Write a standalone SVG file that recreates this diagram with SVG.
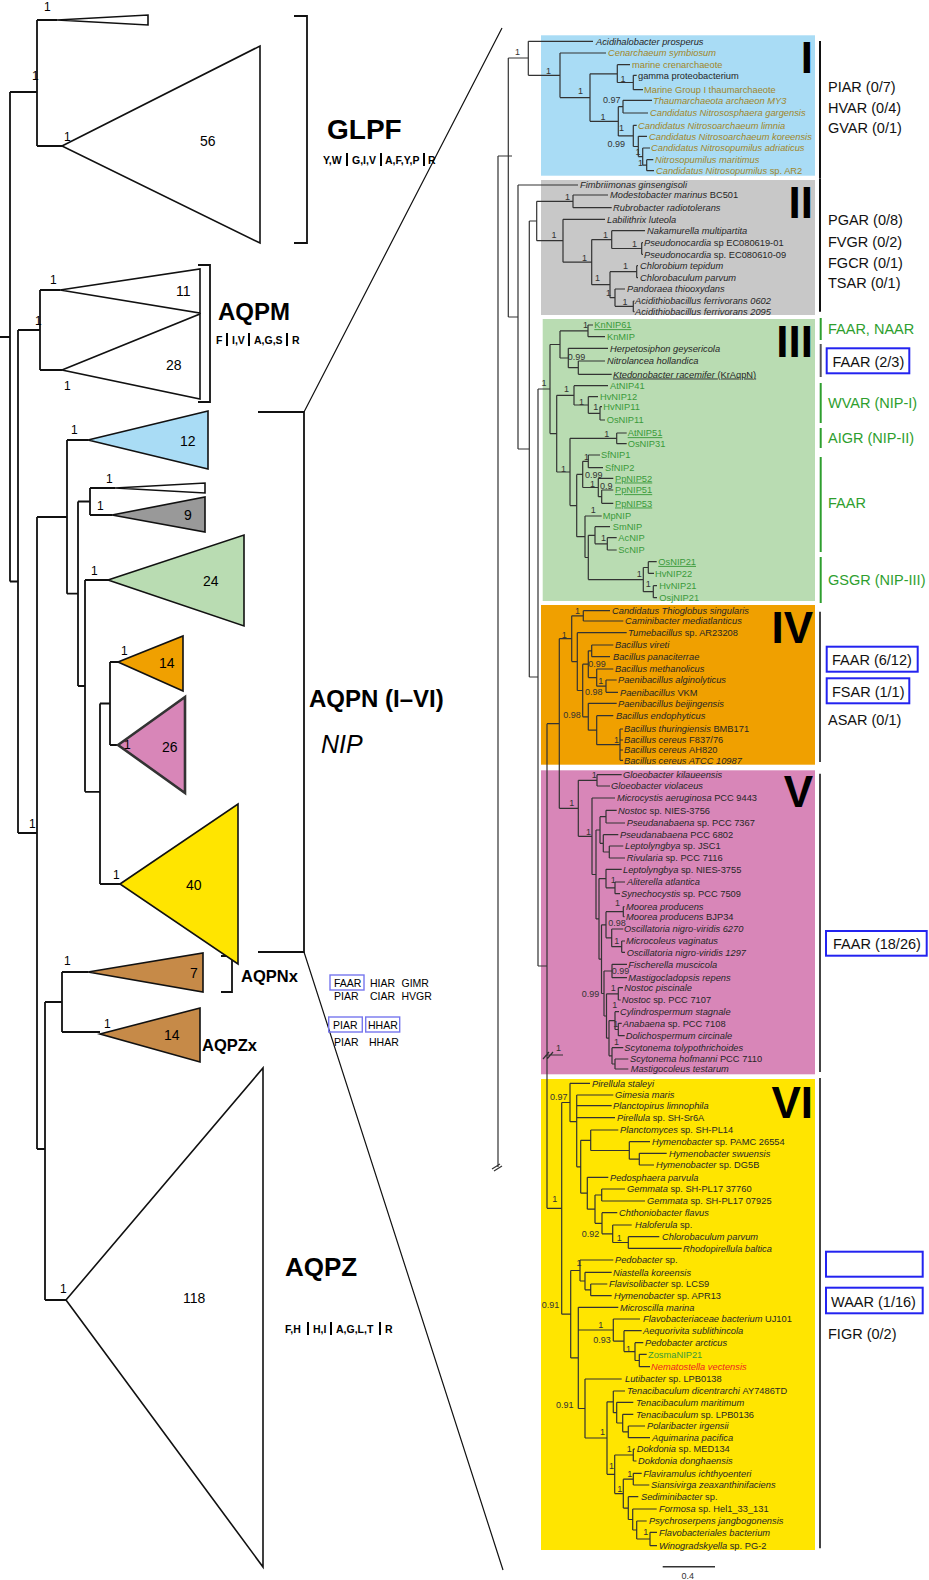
<svg xmlns="http://www.w3.org/2000/svg" width="929" height="1580" viewBox="0 0 929 1580">
<style>
.lf{font-family:"Liberation Sans",Arial,sans-serif;font-size:9.3px;font-style:italic;fill:#262626}
.n{font-style:normal}
.gd{fill:#a0862a}
.gn{fill:#3a9a3a;font-style:normal}
.sv{font-family:"Liberation Sans",Arial,sans-serif;font-size:9px;fill:#333}
.rl{font-family:"Liberation Sans",Arial,sans-serif;font-size:14.5px;fill:#111}
.rg{font-family:"Liberation Sans",Arial,sans-serif;font-size:14.5px;fill:#2e9e2e}
.rn{font-family:"Liberation Sans",Arial,sans-serif;font-size:44px;font-weight:bold;fill:#000;text-anchor:end}
.tr{stroke:#333;stroke-width:1.2;fill:none}
.lt{stroke:#111;stroke-width:1.8;fill:none}
.tri{stroke:#111;stroke-width:1.6}
.bx{fill:none;stroke:#2323f0;stroke-width:2}
.sb{fill:none;stroke:#7777ee;stroke-width:1.4}
.big{font-family:"Liberation Sans",Arial,sans-serif;font-weight:bold;fill:#000}
.num{font-family:"Liberation Sans",Arial,sans-serif;font-size:14px;fill:#000}
.one{font-family:"Liberation Sans",Arial,sans-serif;font-size:12px;fill:#000}
.sm{font-family:"Liberation Sans",Arial,sans-serif;font-size:10.5px;fill:#000}
.smb{font-family:"Liberation Sans",Arial,sans-serif;font-size:10.5px;font-weight:bold;fill:#000}
.u{text-decoration:underline}
</style>

<!-- LEFT PANEL -->
<g id="left-connectors" class="lt">
<path d="M0 337 H10 M10 92 V581.5 M10 92 H37 M37 20 V146 M37 20 H57 M37 146 H62 M10 581.5 H18 M18 330 V833 M18 330 H40 M18 833 H37 M40 290 V370 M40 290 H60 M40 370 H62 M37 517 V1149 M37 517 H67 M37 1149 H45 M67 440 V593.7 M67 440 H88 M67 593.7 H78 M78 501.5 V686 M78 501.5 H90 M78 686 H85 M90 488 V515 M90 488 H115 M90 515 H112 M85 580 V791.8 M85 580 H108 M85 791.8 H100 M100 703.5 V884 M100 703.5 H110 M100 884 H120 M110 662 V745 M110 662 H118 M110 745 H118 M45 1002 V1300 M45 1002 H62 M45 1300 H66 M62 972 V1032 M62 972 H88 M62 1032 H100"/>
<path d="M294 16 H307 V243 H294 M198 265 H210 V402 H198 M258 412 H304 V952 H258 M221 956 H232 V992 H221"/>
<path d="M502 28 L304 412 M304 952 L503 1570" style="stroke-width:1.2"/>
</g>

<g id="tri-glpf-small"><path class="tri" d="M57 20 L148 15 V25 Z" fill="#fff"/><text class="one" x="44" y="11">1</text></g>
<g id="tri-glpf"><path class="tri" d="M62 146 L260 46 V243 Z" fill="#fff"/><text class="num" x="200" y="146">56</text><text class="one" x="64" y="141">1</text><text class="one" x="32" y="80">1</text></g>
<g id="label-glpf"><text class="big" x="327" y="139" font-size="28">GLPF</text>
<text class="smb" x="323" y="164">Y,W</text><text class="smb" x="352" y="164">G,I,V</text><text class="smb" x="385" y="164">A,F,Y,P</text><text class="smb" x="428" y="164">R</text>
<path d="M347 153 V166 M381 153 V166 M424 153 V166" stroke="#000" stroke-width="2"/></g>

<g id="tri-aqpm-11"><path class="tri" d="M60 290 L200 269 V313 Z" fill="#fff"/><text class="num" x="176" y="296">11</text><text class="one" x="50" y="284">1</text></g>
<g id="tri-aqpm-28"><path class="tri" d="M62 370 L200 314 V399 Z" fill="#fff"/><text class="num" x="166" y="370">28</text><text class="one" x="64" y="390">1</text><text class="one" x="35" y="325">1</text></g>
<g id="label-aqpm"><text class="big" x="218" y="320" font-size="24">AQPM</text>
<text class="smb" x="216" y="344">F</text><text class="smb" x="232" y="344">I,V</text><text class="smb" x="254" y="344">A,G,S</text><text class="smb" x="292" y="344">R</text>
<path d="M227 333 V346 M249 333 V346 M287 333 V346" stroke="#000" stroke-width="2"/></g>

<g id="tri-n12"><path class="tri" d="M88 440 L208 411 V469 Z" fill="#a9dcf5"/><text class="num" x="180" y="446">12</text><text class="one" x="71" y="434">1</text></g>
<g id="tri-nsliver"><path class="tri" d="M115 488 L205 483 V493 Z" fill="#fff"/><text class="one" x="106" y="483">1</text></g>
<g id="tri-n9"><path class="tri" d="M112 515 L205 497 V532 Z" fill="#999"/><text class="num" x="184" y="520">9</text><text class="one" x="97" y="510">1</text></g>
<g id="tri-n24"><path class="tri" d="M108 580 L244 535 V626 Z" fill="#b9dcb2"/><text class="num" x="203" y="586">24</text><text class="one" x="91" y="575">1</text></g>
<g id="tri-n14"><path class="tri" d="M118 662 L183 636 V691 Z" fill="#f0a000"/><text class="num" x="159" y="668">14</text><text class="one" x="121" y="655">1</text></g>
<g id="tri-n26"><path d="M118 745 L185 697 V793 Z" fill="#d886b8" stroke="#333" stroke-width="2.6"/><text class="num" x="162" y="752">26</text><text class="one" x="124" y="749">1</text></g>
<g id="tri-n40"><path class="tri" d="M120 884 L238 804 V964 Z" fill="#ffe500"/><text class="num" x="186" y="890">40</text><text class="one" x="113" y="879">1</text></g>
<g id="label-aqpn"><text class="big" x="309" y="707" font-size="24">AQPN (I–VI)</text><text x="321" y="753" font-family="Liberation Sans,Arial,sans-serif" font-size="25" font-style="italic">NIP</text><text class="one" x="29" y="828">1</text></g>

<g id="tri-aqpnx"><path class="tri" d="M88 972 L203 953 V992 Z" fill="#c68a48"/><text class="num" x="190" y="978">7</text><text class="one" x="64" y="965">1</text></g>
<g id="tri-aqpzx"><path class="tri" d="M100 1034 L200 1008 V1062 Z" fill="#c68a48"/><text class="num" x="164" y="1040">14</text><text class="one" x="104" y="1028">1</text></g>
<g id="label-aqpnx"><text class="big" x="241" y="982" font-size="16.5">AQPNx</text><text class="big" x="202" y="1051" font-size="16.5">AQPZx</text></g>
<g id="motifs-x">
<rect class="sb" x="330" y="975" width="34" height="15"/><text class="sm" x="334" y="986.5" fill="#666">FAAR</text>
<text class="sm" x="370" y="987">HIAR</text><text class="sm" x="401.5" y="987">GIMR</text>
<text class="sm" x="334" y="1000">PIAR</text><text class="sm" x="370" y="1000">CIAR</text><text class="sm" x="401.5" y="1000">HVGR</text>
<rect class="sb" x="328.7" y="1017" width="33.6" height="15"/><text class="sm" x="333" y="1028.5" fill="#666">PIAR</text>
<rect class="sb" x="365.7" y="1017" width="34" height="15"/><text class="sm" x="368" y="1028.5" fill="#666">HHAR</text>
<text class="sm" x="334" y="1045.5">PIAR</text><text class="sm" x="369" y="1045.5">HHAR</text>
</g>
<g id="tri-aqpz"><path class="tri" d="M66 1300 L263 1068 V1567 Z" fill="#fff"/><text class="num" x="183" y="1303">118</text><text class="one" x="60" y="1293">1</text></g>
<g id="label-aqpz"><text class="big" x="285" y="1276" font-size="26">AQPZ</text>
<text class="smb" x="285" y="1333">F,H</text><text class="smb" x="313" y="1333">H,I</text><text class="smb" x="336" y="1333">A,G,L,T</text><text class="smb" x="385" y="1333">R</text>
<path d="M308 1322 V1335 M331 1322 V1335 M380 1322 V1335" stroke="#000" stroke-width="2"/></g>

<!-- RIGHT PANEL -->
<g id="clade-boxes">
<rect x="541" y="35.3" width="274" height="140.4" fill="#a9dcf5"/>
<rect x="541" y="180" width="274" height="135" fill="#c8c8c8"/>
<rect x="542.7" y="319" width="272.3" height="282" fill="#b9dcb2"/>
<rect x="541" y="605" width="274" height="159.7" fill="#f0a000"/>
<rect x="541" y="770.3" width="274" height="304" fill="#d886b8"/>
<rect x="541" y="1079" width="274" height="471" fill="#ffe500"/>
</g>

<g id="right-connectors" class="tr">
<path d="M498 156 H512 M498 156 V1167 M492 1169 L500 1164 M494 1171 L502 1166 M508.3 58 V317 M508.3 58 H528.3 M508.3 317 H518 M518 185 V449 M518 185 H578 M518 449 H529.3 M529.3 221 V677 M529.3 221 H536.7 M529.3 677 H538 M538 389 V966 M538 389 H550 M538 966 H547 M547 723.7 V1208.3 M547 723.7 H559.3 M547 1208.3 H561.7 M559.3 638.7 V808.3 M559.3 638.7 H571.7 M559.3 808.3 H578.3 M547 1055 H563 M543 1059 L549 1052 M547 1059 L553 1052"/>
<path d="M528.3 41.3 V75.3 M528.3 41.3 H593 M528.3 75.3 H560 M560 53 V97.6 M560 53 H606 M560 97.6 H590 M590 73.8 V121.3 M590 73.8 H617.3 M590 121.3 H618.3 M617.3 64.7 V82.5 M617.3 64.7 H630 M617.3 82.5 H633.3 M633.3 75.3 V89.7 M633.3 75.3 H636.7 M633.3 89.7 H643 M618.3 106.7 V135.9 M618.3 106.7 H623 M618.3 135.9 H633.3 M623 100.3 V113 M623 100.3 H652 M623 113 H648 M633.3 125.3 V146.5 M633.3 125.3 H636.7 M633.3 146.5 H638.3 M638.3 136.3 V156.6 M638.3 136.3 H647 M638.3 156.6 H642.7 M642.7 148 V165.2 M642.7 148 H650 M642.7 165.2 H646.7 M646.7 159.7 V170.7 M646.7 159.7 H653.3 M646.7 170.7 H654"/>
<path d="M536.7 201.3 V240.7 M536.7 201.3 H573 M536.7 240.7 H563 M573 195 V207.7 M573 195 H608 M573 207.7 H611.7 M563 219.3 V262.2 M563 219.3 H605 M563 262.2 H591.7 M591.7 239.6 V284.7 M591.7 239.6 H611.7 M591.7 284.7 H610 M611.7 230.7 V248.5 M611.7 230.7 H645 M611.7 248.5 H641.7 M641.7 242.7 V254.3 M641.7 242.7 H643 M641.7 254.3 H643 M610 271.7 V297.7 M610 271.7 H636.7 M610 297.7 H615 M636.7 265.7 V277.7 M636.7 265.7 H638 M636.7 277.7 H638 M615 289 V306.3 M615 289 H625 M615 306.3 H633.3 M633.3 301 V311.7 M633.3 301 H634.5 M633.3 311.7 H634.5"/>
<path d="M550 344.5 V433.6 M550 344.5 H560 M550 433.6 H556.7 M560 330.9 V358 M560 330.9 H588 M560 358 H568.3 M588 325 V336.7 M588 325 H593 M588 336.7 H605 M568.3 348.3 V367.7 M568.3 348.3 H608 M568.3 367.7 H578.3 M578.3 361 V374.3 M578.3 361 H605 M578.3 374.3 H611.7 M556.7 395.3 V472 M556.7 395.3 H574 M556.7 472 H570 M574 385.7 V405 M574 385.7 H608 M574 405 H588.3 M588.3 396.7 V413.3 M588.3 396.7 H598 M588.3 413.3 H600 M600 406.7 V420 M600 406.7 H602 M600 420 H605 M570 438.3 V505.6 M570 438.3 H616.7 M570 505.6 H576.7 M616.7 433 V443.7 M616.7 433 H626.7 M616.7 443.7 H626.7 M576.7 474.4 V536.7 M576.7 474.4 H582.7 M576.7 536.7 H585 M582.7 461.3 V487.5 M582.7 461.3 H588.3 M582.7 487.5 H598.3 M588.3 455 V467.7 M588.3 455 H600 M588.3 467.7 H603 M598.3 478.3 V496.7 M598.3 478.3 H613.3 M598.3 496.7 H601.7 M601.7 490 V503.3 M601.7 490 H613.3 M601.7 503.3 H613.3 M585 516 V557.5 M585 516 H601.7 M585 557.5 H588.3 M588.3 535.3 V579.6 M588.3 535.3 H595 M588.3 579.6 H643.3 M595 526.7 V543.8 M595 526.7 H610 M595 543.8 H607.3 M607.3 537.7 V550 M607.3 537.7 H616.7 M607.3 550 H616.7 M643.3 567.5 V591.7 M643.3 567.5 H648.3 M643.3 591.7 H653.3 M648.3 561.7 V573.3 M648.3 561.7 H656.7 M648.3 573.3 H654 M653.3 585.7 V597.7 M653.3 585.7 H657 M653.3 597.7 H657"/>
<path d="M571.7 615.8 V661.6 M571.7 615.8 H583.3 M571.7 661.6 H577.3 M583.3 610.7 V621 M583.3 610.7 H610 M583.3 621 H623.3 M577.3 632.7 V690.5 M577.3 632.7 H626.7 M577.3 690.5 H582.7 M582.7 664.2 V716.8 M582.7 664.2 H588.3 M582.7 716.8 H588.3 M588.3 650.8 V677.6 M588.3 650.8 H591.7 M588.3 677.6 H596.7 M591.7 645 V656.7 M591.7 645 H613.3 M591.7 656.7 H610 M596.7 669 V686.2 M596.7 669 H613.3 M596.7 686.2 H606 M606 680 V692.3 M606 680 H616.7 M606 692.3 H618 M588.3 703.3 V730.2 M588.3 703.3 H616.7 M588.3 730.2 H596.7 M596.7 715.7 V744.7 M596.7 715.7 H613.3 M596.7 744.7 H620 M620 729 V760.3 M620 729 H623 M620 740 H623 M620 750 H623 M620 760.3 H623"/>
<path d="M578.3 780.3 V836.3 M578.3 780.3 H597 M578.3 836.3 H592 M597 774.7 V786 M597 774.7 H621.7 M597 786 H610 M592 798 V874.5 M592 798 H615 M592 874.5 H596 M596 830 V918.9 M596 830 H600 M596 918.9 H599 M600 816.7 V843.3 M600 816.7 H606 M600 843.3 H603.3 M606 810.3 V823 M606 810.3 H616.7 M606 823 H625 M603.3 834.7 V852 M603.3 834.7 H618.3 M603.3 852 H609.3 M609.3 846 V858 M609.3 846 H623.3 M609.3 858 H625 M599 878.6 V959.2 M599 878.6 H606 M599 959.2 H601.5 M606 869.3 V887.8 M606 869.3 H621.7 M606 887.8 H615 M615 882 V893.7 M615 882 H625 M615 893.7 H620 M601.5 924.8 V993.5 M601.5 924.8 H606 M601.5 993.5 H604 M606 911.7 V937.8 M606 911.7 H623.3 M606 937.8 H611.7 M623.3 906.7 V916.7 M623.3 906.7 H624.5 M623.3 916.7 H624.5 M611.7 929 V946.7 M611.7 929 H623.3 M611.7 946.7 H621.7 M621.7 941 V952.3 M621.7 941 H625 M621.7 952.3 H625 M604 971 V1016 M604 971 H612 M604 1016 H606.5 M612 964.3 V977.7 M612 964.3 H627 M612 977.7 H627 M606.5 993.8 V1038.2 M606.5 993.8 H618.3 M606.5 1038.2 H609 M618.3 987.7 V1000 M618.3 987.7 H623 M618.3 1000 H620.7 M609 1020.6 V1055.8 M609 1020.6 H615 M609 1055.8 H612 M615 1011.7 V1029.5 M615 1011.7 H619 M615 1029.5 H618.3 M618.3 1023.3 V1035.7 M618.3 1023.3 H621.7 M618.3 1035.7 H624.7 M612 1047.7 V1064 M612 1047.7 H623.3 M612 1064 H615 M615 1059 V1069 M615 1059 H628.3 M615 1069 H628.3"/>
<path d="M561.7 1102.5 V1314.2 M561.7 1102.5 H570 M561.7 1314.2 H570.7 M570 1083.3 V1121.7 M570 1083.3 H590 M570 1121.7 H576.7 M576.7 1095 V1166.8 M576.7 1095 H613.3 M576.7 1105.7 H611.7 M576.7 1117.7 H615 M576.7 1166.8 H580.7 M580.7 1140.3 V1193.2 M580.7 1140.3 H590.7 M580.7 1193.2 H587.3 M590.7 1130 V1150.5 M590.7 1130 H618.3 M590.7 1150.5 H629.3 M629.3 1141.7 V1159.2 M629.3 1141.7 H650 M629.3 1159.2 H639.3 M639.3 1153.3 V1165 M639.3 1153.3 H666.7 M639.3 1165 H654 M587.3 1177.3 V1209.2 M587.3 1177.3 H608.3 M587.3 1209.2 H595 M595 1195 V1223.3 M595 1195 H601.7 M595 1223.3 H602 M601.7 1189 V1201 M601.7 1189 H625 M601.7 1201 H645 M602 1212.7 V1233.8 M602 1212.7 H617.3 M602 1233.8 H612.7 M612.7 1225 V1242.5 M612.7 1225 H631.7 M612.7 1242.5 H628.3 M628.3 1236.7 V1248.3 M628.3 1236.7 H659.3 M628.3 1248.3 H681.7 M570.7 1270.5 V1357.9 M570.7 1270.5 H580 M570.7 1357.9 H578.3 M580 1260 V1281 M580 1260 H613.3 M580 1281 H585 M585 1272.3 V1289.8 M585 1272.3 H611.7 M585 1289.8 H590.7 M590.7 1284 V1295.7 M590.7 1284 H607.3 M590.7 1295.7 H611.7 M578.3 1307.3 V1408.5 M578.3 1307.3 H618.3 M578.3 1330 H613.3 M578.3 1408.5 H585 M613.3 1319 V1341.1 M613.3 1319 H640 M613.3 1341.1 H624 M624 1330.7 V1351.6 M624 1330.7 H641.7 M624 1351.6 H635 M635 1342.7 V1360.5 M635 1342.7 H643.3 M635 1360.5 H639.3 M639.3 1354.3 V1366.7 M639.3 1354.3 H646.7 M639.3 1366.7 H650 M585 1379 V1438 M585 1379 H621.7 M585 1438 H607 M607 1401.8 V1474.3 M607 1401.8 H613.3 M607 1474.3 H614.7 M613.3 1391 V1412.7 M613.3 1391 H625 M613.3 1412.7 H616.7 M616.7 1402.3 V1423 M616.7 1402.3 H633.3 M616.7 1423 H622.7 M622.7 1414.3 V1431.8 M622.7 1414.3 H633.3 M622.7 1431.8 H628.3 M628.3 1426 V1437.7 M628.3 1426 H645 M628.3 1437.7 H650 M614.7 1455 V1493.6 M614.7 1455 H633.3 M614.7 1493.6 H623.3 M633.3 1449 V1461 M633.3 1449 H635 M633.3 1461 H636.5 M623.3 1479.2 V1508.1 M623.3 1479.2 H633.3 M623.3 1508.1 H628.3 M633.3 1473.3 V1485 M633.3 1473.3 H641.7 M633.3 1485 H649.3 M628.3 1496.7 V1519.5 M628.3 1496.7 H638.3 M628.3 1519.5 H632.7 M632.7 1509 V1530 M632.7 1509 H656.7 M632.7 1530 H636.7 M636.7 1521 V1539 M636.7 1521 H646.7 M636.7 1539 H650 M650 1532.3 V1545.7 M650 1532.3 H657 M650 1545.7 H657"/>
<path d="M662.7 1566.7 H715" stroke-width="1.4"/>
</g>

<g id="clade-I">
<text class="rn" x="813" y="73">I</text>
<path d="M820 41 V178" stroke="#111" stroke-width="2"/>
<text class="rl" x="828" y="92">PIAR (0/7)</text><text class="rl" x="828" y="113">HVAR (0/4)</text><text class="rl" x="828" y="133">GVAR (0/1)</text>
<text class="lf" x="596" y="44.5">Acidihalobacter prosperus</text>
<text class="lf gd" x="608" y="56.2">Cenarchaeum symbiosum</text>
<text class="lf gd n" x="632" y="67.9">marine crenarchaeote</text>
<text class="lf n" x="638" y="78.5" fill="#111">gamma proteobacterium</text>
<text class="lf gd n" x="644" y="92.9">Marine Group I thaumarchaeote</text>
<text class="lf gd" x="653" y="103.5">Thaumarchaeota archaeon MY3</text>
<text class="lf gd" x="650" y="116.2">Candidatus Nitrososphaera gargensis</text>
<text class="lf gd" x="638" y="128.5">Candidatus Nitrosoarchaeum limnia</text>
<text class="lf gd" x="649" y="139.5">Candidatus Nitrosoarchaeum koreensis</text>
<text class="lf gd" x="651" y="151.2">Candidatus Nitrosopumilus adriaticus</text>
<text class="lf gd" x="655" y="162.9">Nitrosopumilus maritimus</text>
<text class="lf gd" x="656" y="173.9">Candidatus Nitrosopumilus <tspan class="n">sp. AR2</tspan></text>
<text class="sv" x="515" y="55">1</text><text class="sv" x="546" y="74">1</text><text class="sv" x="578" y="94">1</text><text class="sv" x="620.5" y="82">1</text><text class="sv" x="600.5" y="119.5">1</text><text class="sv" x="603" y="103">0.97</text><text class="sv" x="619" y="131">1</text><text class="sv" x="607.5" y="147.3">0.99</text><text class="sv" x="635.5" y="155">1</text><text class="sv" x="638" y="166">1</text>
</g>

<g id="clade-II">
<text class="rn" x="813" y="218">II</text>
<path d="M820 178.3 V311.7" stroke="#111" stroke-width="2"/>
<text class="rl" x="828" y="225">PGAR (0/8)</text><text class="rl" x="828" y="246.7">FVGR (0/2)</text><text class="rl" x="828" y="268.3">FGCR (0/1)</text><text class="rl" x="828" y="288.3">TSAR (0/1)</text>
<text class="lf" x="580" y="188.2">Fimbriimonas ginsengisoli</text>
<text class="lf" x="610" y="198.2">Modestobacter marinus <tspan class="n">BC501</tspan></text>
<text class="lf" x="613" y="210.9">Rubrobacter radiotolerans</text>
<text class="lf" x="607" y="222.5">Labilithrix luteola</text>
<text class="lf" x="647" y="233.9">Nakamurella multipartita</text>
<text class="lf" x="644" y="245.9">Pseudonocardia <tspan class="n">sp EC080619-01</tspan></text>
<text class="lf" x="644" y="257.5">Pseudonocardia <tspan class="n">sp. EC080610-09</tspan></text>
<text class="lf" x="640" y="268.9">Chlorobium tepidum</text>
<text class="lf" x="640" y="280.9">Chlorobaculum parvum</text>
<text class="lf" x="627" y="292.2">Pandoraea thiooxydans</text>
<text class="lf" x="635" y="304.2">Acidithiobacillus ferrivorans 0602</text>
<text class="lf" x="635" y="314.9">Acidithiobacillus ferrivorans 2095</text>
<text class="sv" x="565" y="200">1</text><text class="sv" x="551.5" y="238">1</text><text class="sv" x="582" y="261">1</text><text class="sv" x="603" y="238">1</text><text class="sv" x="632" y="246.7">1</text><text class="sv" x="623" y="269">1</text><text class="sv" x="595" y="281">1</text><text class="sv" x="606" y="296">1</text><text class="sv" x="622.5" y="305">1</text>
</g>

<g id="clade-III">
<text class="rn" x="813" y="357">III</text>
<path d="M820.7 318 V340 M820.7 383 V423 M820.7 428 V448 M820.7 457 V552 M820.7 557 V603" stroke="#2e9e2e" stroke-width="2"/>
<path d="M820.7 344 V377" stroke="#555" stroke-width="2"/>
<text class="rg" x="828" y="334">FAAR, NAAR</text>
<rect class="bx" x="826.7" y="348.3" width="82.6" height="25"/><text class="rl" x="832.5" y="366.5">FAAR (2/3)</text>
<text class="rg" x="828" y="408">WVAR (NIP-I)</text>
<text class="rg" x="828" y="443">AIGR (NIP-II)</text>
<text class="rg" x="828" y="508">FAAR</text>
<text class="rg" x="828" y="585">GSGR (NIP-III)</text>
<text class="lf gn u" x="594.3" y="328.2">KnNIP61</text>
<text class="lf gn" x="607" y="339.9">KnMIP</text>
<text class="lf" x="610" y="351.5">Herpetosiphon geysericola</text>
<text class="lf" x="607" y="364.2">Nitrolancea hollandica</text>
<text class="lf u" x="613" y="377.5">Ktedonobacter racemifer <tspan class="n">(KrAqpN)</tspan></text>
<text class="lf gn" x="610" y="388.9">AtNIP41</text>
<text class="lf gn" x="600" y="399.9">HvNIP12</text>
<text class="lf gn" x="603.3" y="409.9">HvNIP11</text>
<text class="lf gn" x="606.7" y="423.2">OsNIP11</text>
<text class="lf gn u" x="627.7" y="436.2">AtNIP51</text>
<text class="lf gn" x="627.7" y="446.9">OsNIP31</text>
<text class="lf gn" x="601" y="458.2">SfNIP1</text>
<text class="lf gn" x="605" y="470.9">SfNIP2</text>
<text class="lf gn u" x="615" y="481.5">PpNIP52</text>
<text class="lf gn u" x="615" y="493.2">PpNIP51</text>
<text class="lf gn u" x="615" y="506.5">PpNIP53</text>
<text class="lf gn" x="602.7" y="519.2">MpNIP</text>
<text class="lf gn" x="612.7" y="529.9">SmNIP</text>
<text class="lf gn" x="618.3" y="540.9">AcNIP</text>
<text class="lf gn" x="618.3" y="553.2">ScNIP</text>
<text class="lf gn u" x="658.3" y="564.9">OsNIP21</text>
<text class="lf gn" x="655" y="576.5">HvNIP22</text>
<text class="lf gn" x="659.3" y="588.9">HvNIP21</text>
<text class="lf gn" x="659.3" y="600.9">OsjNIP21</text>
<text class="sv" x="583" y="328">1</text><text class="sv" x="567.7" y="360">0.99</text><text class="sv" x="541.5" y="385.7">1</text><text class="sv" x="564" y="392">1</text><text class="sv" x="579" y="405">1</text><text class="sv" x="593.3" y="410">1</text><text class="sv" x="604.3" y="436.7">1</text><text class="sv" x="584" y="460">1</text><text class="sv" x="561" y="471.7">1</text><text class="sv" x="585" y="477.7">0.99</text><text class="sv" x="590" y="486.7">1</text><text class="sv" x="600" y="489">0.9</text><text class="sv" x="590.7" y="513.3">1</text><text class="sv" x="601" y="541">1</text><text class="sv" x="636.7" y="576.7">1</text><text class="sv" x="645.7" y="586.7">1</text>
</g>

<g id="clade-IV">
<text class="rn" x="813" y="643">IV</text>
<path d="M820 611.7 V762" stroke="#444" stroke-width="2"/>
<rect class="bx" x="826.7" y="646.7" width="91" height="25"/><text class="rl" x="832" y="665">FAAR (6/12)</text>
<rect class="bx" x="826.7" y="678.3" width="82.6" height="25"/><text class="rl" x="832" y="696.7">FSAR (1/1)</text>
<text class="rl" x="828" y="725">ASAR (0/1)</text>
<text class="lf" x="612" y="613.9">Candidatus Thioglobus singularis</text>
<text class="lf" x="625" y="624.2">Caminibacter mediatlanticus</text>
<text class="lf" x="628" y="635.9">Tumebacillus <tspan class="n">sp. AR23208</tspan></text>
<text class="lf" x="615" y="648.2">Bacillus vireti</text>
<text class="lf" x="613" y="659.9">Bacillus panaciterrae</text>
<text class="lf" x="615" y="672.2">Bacillus methanolicus</text>
<text class="lf" x="618" y="683.2">Paenibacillus alginolyticus</text>
<text class="lf" x="620" y="695.5">Paenibacillus <tspan class="n">VKM</tspan></text>
<text class="lf" x="618" y="706.5">Paenibacillus beijingensis</text>
<text class="lf" x="616" y="718.9">Bacillus endophyticus</text>
<text class="lf" x="624" y="732.2">Bacillus thuringiensis <tspan class="n">BMB171</tspan></text>
<text class="lf" x="624" y="743.2">Bacillus cereus <tspan class="n">F837/76</tspan></text>
<text class="lf" x="624" y="753.2">Bacillus cereus <tspan class="n">AH820</tspan></text>
<text class="lf" x="624" y="763.5">Bacillus cereus  ATCC 10987</text>
<text class="sv" x="575" y="614">1</text><text class="sv" x="561.7" y="638">1</text><text class="sv" x="588.3" y="666.7">0.99</text><text class="sv" x="598.3" y="684">1</text><text class="sv" x="585" y="695">0.98</text><text class="sv" x="563.3" y="718">0.98</text><text class="sv" x="614" y="743">1</text>
</g>

<g id="clade-V">
<text class="rn" x="813" y="807">V</text>
<path d="M820 773.7 V1072" stroke="#444" stroke-width="2"/>
<rect class="bx" x="826" y="931" width="100.7" height="24.7"/><text class="rl" x="833" y="949">FAAR (18/26)</text>
<text class="lf" x="623" y="777.9">Gloeobacter kilaueensis</text>
<text class="lf" x="611" y="789.2">Gloeobacter violaceus</text>
<text class="lf" x="617" y="801.2">Microcystis aeruginosa <tspan class="n">PCC 9443</tspan></text>
<text class="lf" x="618" y="813.5">Nostoc <tspan class="n">sp. NIES-3756</tspan></text>
<text class="lf" x="626.7" y="826.2">Pseudanabaena <tspan class="n">sp. PCC 7367</tspan></text>
<text class="lf" x="620" y="837.9">Pseudanabaena <tspan class="n">PCC 6802</tspan></text>
<text class="lf" x="625" y="849.2">Leptolyngbya <tspan class="n">sp. JSC1</tspan></text>
<text class="lf" x="626.7" y="861.2">Rivularia <tspan class="n">sp. PCC 7116</tspan></text>
<text class="lf" x="623" y="872.5">Leptolyngbya <tspan class="n">sp. NIES-3755</tspan></text>
<text class="lf" x="627" y="885.2">Aliterella atlantica</text>
<text class="lf" x="621" y="896.9">Synechocystis <tspan class="n">sp. PCC 7509</tspan></text>
<text class="lf" x="626" y="909.9">Moorea producens</text>
<text class="lf" x="626" y="919.9">Moorea producens <tspan class="n">BJP34</tspan></text>
<text class="lf" x="624" y="932.2">Oscillatoria nigro-viridis 6270</text>
<text class="lf" x="626" y="944.2">Microcoleus vaginatus</text>
<text class="lf" x="626.7" y="955.5">Oscillatoria nigro-viridis 1297</text>
<text class="lf" x="628.3" y="967.5">Fischerella muscicola</text>
<text class="lf" x="628.3" y="980.9">Mastigocladopsis repens</text>
<text class="lf" x="624.3" y="990.9">Nostoc piscinale</text>
<text class="lf" x="621.7" y="1003.2">Nostoc <tspan class="n">sp. PCC 7107</tspan></text>
<text class="lf" x="620" y="1014.9">Cylindrospermum stagnale</text>
<text class="lf" x="622.7" y="1026.5">Anabaena <tspan class="n">sp. PCC 7108</tspan></text>
<text class="lf" x="625.7" y="1038.9">Dolichospermum circinale</text>
<text class="lf" x="624.3" y="1050.9">Scytonema tolypothrichoides</text>
<text class="lf" x="630" y="1062.2">Scytonema hofmanni <tspan class="n">PCC 7110</tspan></text>
<text class="lf" x="630.7" y="1072.2">Mastigocoleus testarum</text>
<text class="sv" x="591.7" y="778">1</text><text class="sv" x="569.3" y="806">1</text><text class="sv" x="586" y="834.7">1</text><text class="sv" x="610.7" y="882.7">1</text><text class="sv" x="615" y="905.7">1</text><text class="sv" x="608.3" y="925.7">0.98</text><text class="sv" x="614.3" y="944">1</text><text class="sv" x="611.7" y="974.3">0.99</text><text class="sv" x="610.7" y="991">1</text><text class="sv" x="581.7" y="996.7">0.99</text><text class="sv" x="612.3" y="1008.3">1</text><text class="sv" x="613.3" y="1026.7">1</text><text class="sv" x="614" y="1045">1</text><text class="sv" x="556" y="1051">1</text>
</g>

<g id="clade-VI">
<text class="rn" x="813" y="1118">VI</text>
<path d="M820 1078 V1548.3" stroke="#444" stroke-width="2"/>
<rect class="bx" x="826" y="1251.7" width="96.7" height="25"/>
<rect class="bx" x="826" y="1287.7" width="96.7" height="25.6"/><text class="rl" x="831" y="1306.5">WAAR (1/16)</text>
<text class="rl" x="828" y="1339">FIGR (0/2)</text>
<text class="lf" x="592" y="1086.5">Pirellula staleyi</text>
<text class="lf" x="615" y="1098.2">Gimesia maris</text>
<text class="lf" x="613" y="1108.9">Planctopirus limnophila</text>
<text class="lf" x="617" y="1120.9">Pirellula <tspan class="n">sp. SH-Sr6A</tspan></text>
<text class="lf" x="620" y="1133.2">Planctomyces <tspan class="n">sp. SH-PL14</tspan></text>
<text class="lf" x="652" y="1144.9">Hymenobacter <tspan class="n">sp. PAMC 26554</tspan></text>
<text class="lf" x="669" y="1156.5">Hymenobacter swuensis</text>
<text class="lf" x="656" y="1168.2">Hymenobacter <tspan class="n">sp. DG5B</tspan></text>
<text class="lf" x="610" y="1180.5">Pedosphaera parvula</text>
<text class="lf" x="627" y="1192.2">Gemmata <tspan class="n">sp. SH-PL17 37760</tspan></text>
<text class="lf" x="647" y="1204.2">Gemmata <tspan class="n">sp. SH-PL17 07925</tspan></text>
<text class="lf" x="619" y="1215.9">Chthoniobacter flavus</text>
<text class="lf" x="635" y="1228.2">Haloferula <tspan class="n">sp.</tspan></text>
<text class="lf" x="662" y="1239.9">Chlorobaculum parvum</text>
<text class="lf" x="683" y="1251.5">Rhodopirellula baltica</text>
<text class="lf" x="615" y="1263.2">Pedobacter <tspan class="n">sp.</tspan></text>
<text class="lf" x="613" y="1275.5">Niastella koreensis</text>
<text class="lf" x="609" y="1287.2">Flavisolibacter <tspan class="n">sp. LCS9</tspan></text>
<text class="lf" x="614" y="1298.9">Hymenobacter <tspan class="n">sp. APR13</tspan></text>
<text class="lf" x="620" y="1310.5">Microscilla marina</text>
<text class="lf" x="643" y="1322.2">Flavobacteriaceae bacterium <tspan class="n">UJ101</tspan></text>
<text class="lf" x="643" y="1333.9">Aequorivita sublithincola</text>
<text class="lf" x="645" y="1345.9">Pedobacter arcticus</text>
<text class="lf gn" x="648" y="1357.5">ZosmaNIP21</text>
<text class="lf" x="651" y="1369.9" style="fill:#ee2222">Nematostella vectensis</text>
<text class="lf" x="625" y="1382.2">Lutibacter <tspan class="n">sp. LPB0138</tspan></text>
<text class="lf" x="627" y="1394.2">Tenacibaculum dicentrarchi <tspan class="n">AY7486TD</tspan></text>
<text class="lf" x="636" y="1405.5">Tenacibaculum maritimum</text>
<text class="lf" x="636" y="1417.5">Tenacibaculum <tspan class="n">sp. LPB0136</tspan></text>
<text class="lf" x="647" y="1429.2">Polaribacter irgensii</text>
<text class="lf" x="652" y="1440.9">Aquimarina pacifica</text>
<text class="lf" x="636.7" y="1452.2">Dokdonia <tspan class="n">sp. MED134</tspan></text>
<text class="lf" x="638" y="1464.2">Dokdonia donghaensis</text>
<text class="lf" x="643.3" y="1476.5">Flaviramulus ichthyoenteri</text>
<text class="lf" x="651" y="1488.2">Siansivirga zeaxanthinifaciens</text>
<text class="lf" x="641" y="1499.9">Sediminibacter <tspan class="n">sp.</tspan></text>
<text class="lf" x="659" y="1512.2">Formosa <tspan class="n">sp. Hel1_33_131</tspan></text>
<text class="lf" x="649" y="1524.2">Psychroserpens jangbogonensis</text>
<text class="lf" x="659" y="1535.5">Flavobacteriales bacterium</text>
<text class="lf" x="659" y="1548.9">Winogradskyella <tspan class="n">sp. PG-2</tspan></text>
<text class="sv" x="550" y="1099.7">0.97</text><text class="sv" x="552.3" y="1202.3">1</text><text class="sv" x="581.7" y="1236.7">0.92</text><text class="sv" x="616.7" y="1241">1</text><text class="sv" x="576.5" y="1266">1</text><text class="sv" x="541.7" y="1308.3">0.91</text><text class="sv" x="598.3" y="1327.7">1</text><text class="sv" x="593.3" y="1343.3">0.93</text><text class="sv" x="626" y="1351.7">1</text><text class="sv" x="556" y="1407.7">0.91</text><text class="sv" x="600" y="1435">1</text><text class="sv" x="626.7" y="1452.3">1</text><text class="sv" x="609" y="1469">1</text><text class="sv" x="627.3" y="1476.7">1</text><text class="sv" x="617.3" y="1491.7">1</text><text class="sv" x="643.3" y="1535">1</text>
</g>

<g id="scale-bar"><text class="sv" x="681.5" y="1579">0.4</text></g>
</svg>
